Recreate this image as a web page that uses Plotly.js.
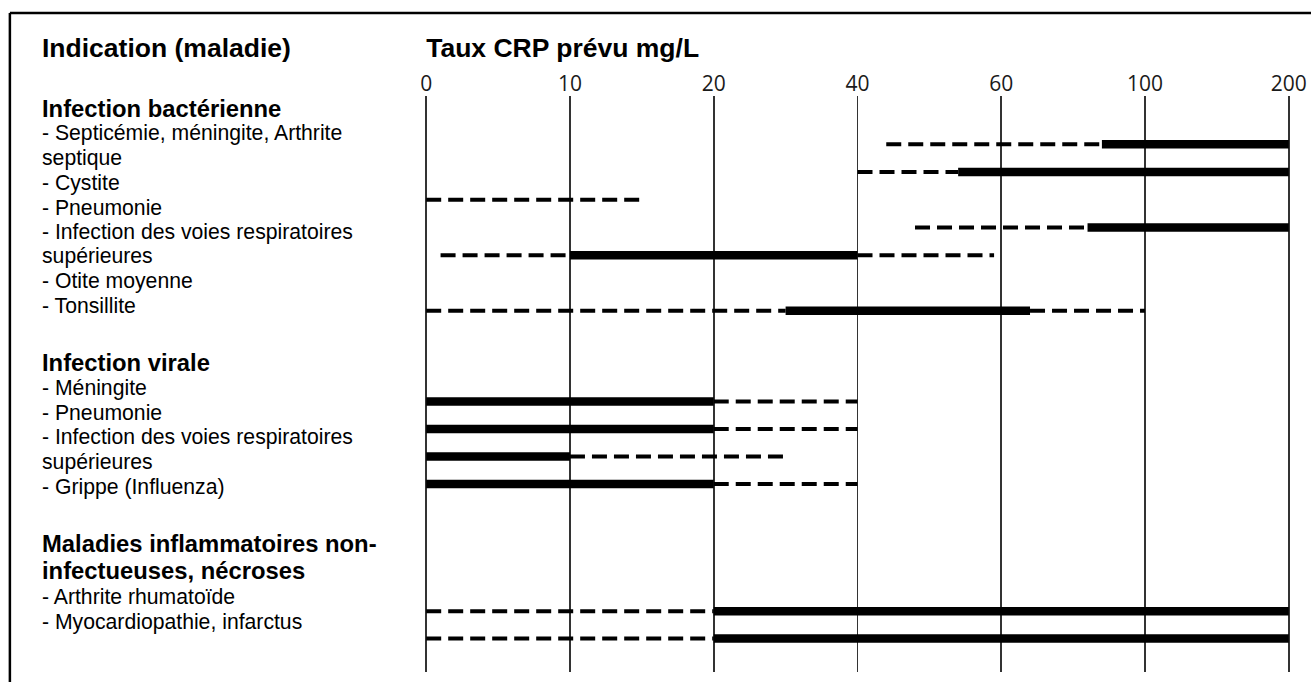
<!DOCTYPE html>
<html>
<head>
<meta charset="utf-8">
<script src="https://cdn.plot.ly/plotly-3.0.1.min.js"></script>
<style>
  html, body { margin: 0; padding: 0; background: #ffffff; }
  #chart { width: 1311px; height: 682px; }
</style>
</head>
<body>
<div id="chart"></div>
<script>
// ---------- DATA ----------
// Axis ticks (mg/L) — equally spaced on the chart
const tickValues = [0, 10, 20, 40, 60, 100, 200];
const tickLabels = ['0', '10', '20', '40', '60', '100', '200'];

// Rows (top to bottom)
const rowNames = [
  'Septicémie, méningite, Arthrite septique',
  'Cystite',
  'Pneumonie (bact.)',
  'Infection des voies respiratoires supérieures (bact.)',
  'Otite moyenne',
  'Tonsillite',
  'Méningite (virale)',
  'Pneumonie (virale)',
  'Infection des voies respiratoires supérieures (virale)',
  'Grippe (Influenza)',
  'Arthrite rhumatoïde',
  'Myocardiopathie, infarctus'
];
// Full possible range (dashed) in mg/L
const rangeMin = [44, 40, 0, 48, 1, 0, 0, 0, 0, 0, 0, 0];
const rangeMax = [200, 200, 15, 200, 59, 100, 40, 40, 30, 40, 200, 200];
// Typical range (solid) in mg/L, null if none
const typicalMin = [88, 54, null, 84, 10, 30, 0, 0, 0, 0, 20, 20];
const typicalMax = [200, 200, null, 200, 40, 68, 20, 20, 10, 20, 200, 200];

// Left-hand text
const labelLines = [
  'Indication (maladie)',
  'Infection bactérienne',
  '- Septicémie, méningite, Arthrite',
  'septique',
  '- Cystite',
  '- Pneumonie',
  '- Infection des voies respiratoires',
  'supérieures',
  '- Otite moyenne',
  '- Tonsillite',
  'Infection virale',
  '- Méningite',
  '- Pneumonie',
  '- Infection des voies respiratoires',
  'supérieures',
  '- Grippe (Influenza)',
  'Maladies inflammatoires non-',
  'infectueuses, nécroses',
  '- Arthrite rhumatoïde',
  '- Myocardiopathie, infarctus'
];
const chartTitle = 'Taux CRP prévu mg/L';

// ---------- LAYOUT CONSTANTS ----------
const W = 1311, H = 682;
const rowPos = [0, 1, 2, 3, 4, 6, 9.27, 10.26, 11.25, 12.24, 16.83, 17.81];
const labelStyle = ['h0', 'h', 'r', 'r', 'r', 'r', 'r', 'r', 'r', 'r', 'h', 'r', 'r', 'r', 'r', 'r', 'h', 'h', 'r', 'r'];
const labelY = [48, 108, 133, 158, 182.5, 207, 231.5, 256, 280.5, 305, 362, 388, 412.5, 437, 461.5, 486.5, 543, 570, 596.5, 621.5];
const labelX = 40;

const marginL = 418.8, marginR = 14.8, marginT = 96, marginB = 10;
const plotW = W - marginL - marginR, plotH = H - marginT - marginB;
const px2x = p => (p - marginL) / plotW;
const px2y = p => 1 - (p - marginT) / plotH;

// piecewise mapping of mg/L onto the equally spaced tick scale
function toAxis(v) {
  for (let i = 0; i < tickValues.length - 1; i++) {
    if (v <= tickValues[i + 1]) {
      return i + (v - tickValues[i]) / (tickValues[i + 1] - tickValues[i]);
    }
  }
  return tickValues.length - 1;
}

const traces = [];
rowNames.forEach((name, i) => {
  const y = rowPos[i];
  const dx = [], dy = [];
  if (typicalMin[i] === null) {
    dx.push(toAxis(rangeMin[i]), toAxis(rangeMax[i]));
    dy.push(y, y);
  } else {
    if (rangeMin[i] < typicalMin[i]) {
      dx.push(toAxis(rangeMin[i]), toAxis(typicalMin[i]), null);
      dy.push(y, y, null);
    }
    if (rangeMax[i] > typicalMax[i]) {
      dx.push(toAxis(typicalMax[i]), toAxis(rangeMax[i]));
      dy.push(y, y);
    }
  }
  if (dx.length) {
    traces.push({
      type: 'scatter', mode: 'lines', x: dx, y: dy, name: name,
      connectgaps: false, hoverinfo: 'skip', showlegend: false,
      line: { color: '#000000', width: 4, dash: '15px,7px' }
    });
  }
  if (typicalMin[i] !== null) {
    traces.push({
      type: 'scatter', mode: 'lines',
      x: [toAxis(typicalMin[i]), toAxis(typicalMax[i])], y: [y, y],
      name: name, hoverinfo: 'skip', showlegend: false,
      line: { color: '#000000', width: 8.5 }
    });
  }
});

const annotations = labelLines.map((t, i) => {
  const st = labelStyle[i];
  const size = st === 'h0' ? 26.5 : (st === 'h' ? 23.8 : 21.2);
  const bold = st !== 'r';
  return {
    xref: 'paper', yref: 'paper',
    x: px2x(labelX), y: px2y(labelY[i]),
    xanchor: 'left', yanchor: 'middle',
    text: bold ? '<b>' + t + '</b>' : t,
    showarrow: false,
    font: { family: 'Liberation Sans, Arial, sans-serif', size: size, color: '#000000' }
  };
});

const shapes = [
  { type: 'line', xref: 'paper', yref: 'paper',
    x0: px2x(9.5), x1: px2x(W + 5), y0: px2y(13), y1: px2y(13),
    line: { color: '#000000', width: 2.5 } },
  { type: 'line', xref: 'paper', yref: 'paper',
    x0: px2x(9.5), x1: px2x(9.5), y0: px2y(13), y1: px2y(H + 5),
    line: { color: '#000000', width: 2.5 } }
];

const layout = {
  width: W, height: H,
  margin: { l: marginL, r: marginR, t: marginT, b: marginB, pad: 0 },
  paper_bgcolor: '#ffffff', plot_bgcolor: '#ffffff',
  showlegend: false,
  title: {
    text: '<b>' + chartTitle + '</b>',
    font: { family: 'Liberation Sans, Arial, sans-serif', size: 26.5, color: '#000000' },
    xref: 'paper', x: px2x(426), xanchor: 'left',
    yref: 'container', y: 1 - 48 / H, yanchor: 'middle'
  },
  xaxis: {
    range: [-0.05, 6.05], side: 'top',
    tickmode: 'array',
    tickvals: tickValues.map((v) => toAxis(v)),
    ticktext: tickLabels,
    ticks: '', showline: false, zeroline: false,
    showgrid: true, gridcolor: '#333333', gridwidth: 1.8,
    tickfont: { family: 'Open Sans, sans-serif', size: 21, color: '#1a1a1a' },
    fixedrange: true
  },
  yaxis: {
    range: [19.02, -1.74], visible: false, showgrid: false, zeroline: false,
    fixedrange: true
  },
  annotations: annotations,
  shapes: shapes
};

Plotly.newPlot('chart', traces, layout, { displayModeBar: false, staticPlot: true });
</script>
</body>
</html>
